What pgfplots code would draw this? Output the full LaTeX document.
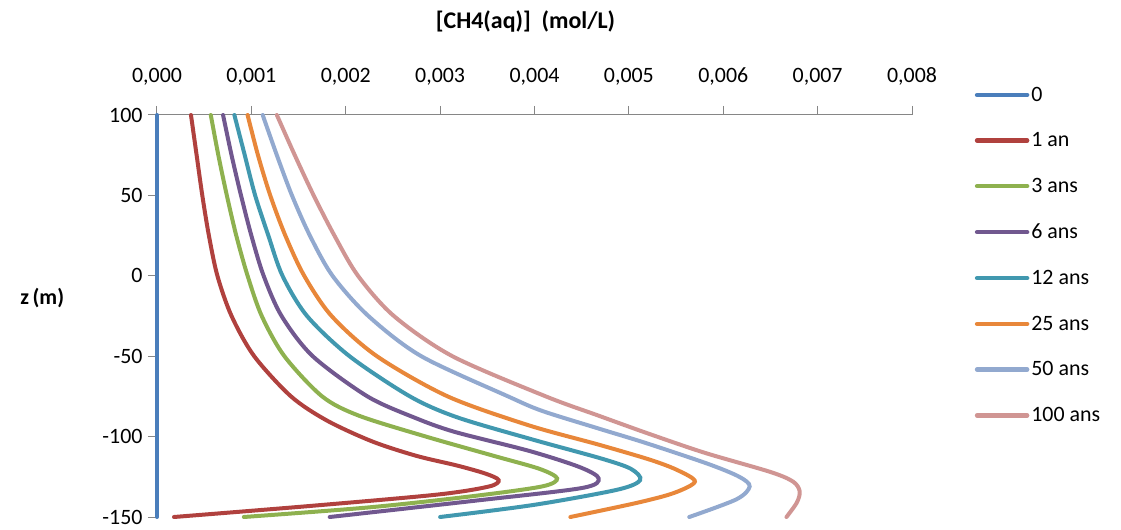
\documentclass[border=0pt]{standalone}
\usepackage{pgfplots}
\pgfplotsset{compat=1.18}
\usepackage{fontspec}
\setmainfont{Carlito}
\definecolor{c0}{HTML}{4A7EBB}
\definecolor{c1}{HTML}{B0413E}
\definecolor{c3}{HTML}{8EB14F}
\definecolor{c6}{HTML}{71588F}
\definecolor{c12}{HTML}{4198AF}
\definecolor{c25}{HTML}{E8873A}
\definecolor{c50}{HTML}{92A9CF}
\definecolor{c100}{HTML}{D09593}
\definecolor{axgray}{HTML}{868686}
\begin{document}
\begin{tikzpicture}
\path[use as bounding box] (-157bp,-13bp) rectangle (964bp,517bp);
\begin{axis}[
  at={(0,0)}, anchor=south west,
  scale only axis, width=755bp, height=402bp,
  xmin=0, xmax=0.008, ymin=-150, ymax=100,
  axis x line=top, axis y line=left,
  axis line style={-, axgray, line width=1bp},
  xtick={0,0.001,0.002,0.003,0.004,0.005,0.006,0.007,0.008},
  xticklabels={{0,000},{0,001},{0,002},{0,003},{0,004},{0,005},{0,006},{0,007},{0,008}},
  ytick={-150,-100,-50,0,50,100},
  yticklabels={-150,-100,-50,0,50,100},
  scaled ticks=false,
  tick align=outside, major tick length=9bp,
  tick style={axgray, line width=1bp},
  ticklabel style={font=\fontsize{22}{26}\selectfont, text=black},
  xticklabel style={yshift=17bp},
  yticklabel style={xshift=-2bp},
  xlabel={[CH4(aq)]\ \ (mol/L)},
  xlabel style={font=\bfseries\fontsize{24}{28}\selectfont, at={(axis description cs:0.488,1)}, anchor=center, yshift=93bp},
  ylabel={z\,(m)},
  ylabel style={font=\bfseries\fontsize{22}{26}\selectfont, rotate=-90, at={(axis description cs:-0.152,0.545)}, anchor=center},
  clip=false,
  legend style={at={(axis description cs:1.083,1.075)}, anchor=north west, draw=none, fill=none,
    font=\fontsize{22}{26}\selectfont, row sep=26bp, inner sep=0pt},
  legend cell align=left,
  legend image code/.code={\draw[line width=4.5bp, line cap=round] (0bp,0bp) -- (50bp,0bp);},
  every axis plot/.append style={line width=4bp, smooth, tension=0.5, line cap=round},
]
\addplot[c0] coordinates {(0,100) (0,-150)};
\addlegendentry{0}
\addplot[c1] coordinates {(0.00036,100) (0.00042,75) (0.00048,50) (0.00055,25) (0.00064,0) (0.00079,-25) (0.00103,-50) (0.00142,-75) (0.00180,-90) (0.00228,-103) (0.00275,-112) (0.00318,-118) (0.00348,-123) (0.00362,-127) (0.00352,-131) (0.00298,-136) (0.00165,-143) (0.00018,-150)};
\addlegendentry{1 an}
\addplot[c3] coordinates {(0.00057,100) (0.00065,75) (0.00074,50) (0.00084,25) (0.00096,0) (0.00111,-25) (0.00135,-50) (0.00175,-75) (0.00214,-87) (0.00285,-100) (0.00357,-112) (0.00405,-120) (0.00424,-126) (0.00408,-131) (0.00335,-137) (0.00225,-144) (0.00092,-150)};
\addlegendentry{3 ans}
\addplot[c6] coordinates {(0.00070,100) (0.00079,75) (0.00089,50) (0.00100,25) (0.00113,0) (0.00132,-25) (0.00165,-50) (0.00223,-75) (0.00272,-88) (0.00315,-97) (0.00395,-109) (0.00448,-119) (0.00468,-126) (0.00450,-132) (0.00335,-140) (0.00183,-150)};
\addlegendentry{6 ans}
\addplot[c12] coordinates {(0.00082,100) (0.00093,75) (0.00104,50) (0.00118,25) (0.00133,0) (0.00159,-25) (0.00204,-50) (0.00268,-75) (0.00318,-88) (0.00399,-102) (0.00470,-113.5) (0.00502,-120) (0.00512,-127) (0.00488,-133) (0.00399,-142.5) (0.00300,-150)};
\addlegendentry{12 ans}
\addplot[c25] coordinates {(0.00096,100) (0.00107,75) (0.00120,50) (0.00136,25) (0.00156,0) (0.00185,-25) (0.00233,-50) (0.00308,-75) (0.00394,-93) (0.00468,-105) (0.00523,-114.5) (0.00552,-121) (0.00570,-128) (0.00548,-135) (0.00510,-141) (0.00438,-150)};
\addlegendentry{25 ans}
\addplot[c50] coordinates {(0.00112,100) (0.00127,75) (0.00143,50) (0.00162,25) (0.00186,0) (0.00224,-25) (0.00280,-50) (0.00372,-75) (0.00408,-84) (0.00468,-95) (0.00518,-104) (0.00584,-117) (0.00617,-125) (0.00628,-131) (0.00614,-139) (0.00564,-150)};
\addlegendentry{50 ans}
\addplot[c100] coordinates {(0.00127,100) (0.00146,75) (0.00166,50) (0.00188,25) (0.00213,0) (0.00251,-25) (0.00313,-50) (0.00412,-75) (0.00468,-87) (0.00520,-98) (0.00580,-110) (0.00650,-122) (0.00674,-128) (0.00681,-134) (0.00678,-141) (0.00667,-150)};
\addlegendentry{100 ans}
\end{axis}
\end{tikzpicture}
\end{document}
